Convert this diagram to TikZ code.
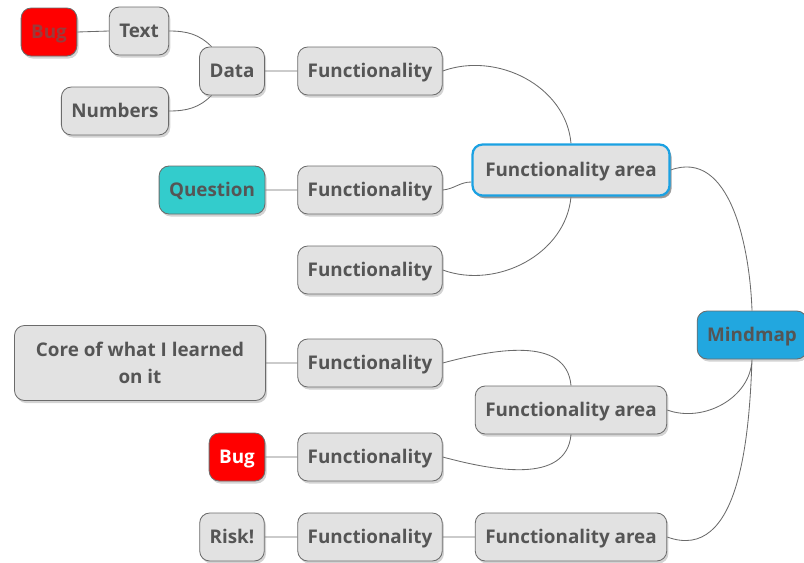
\documentclass[tikz,border=0pt]{standalone}
\usepackage{fontspec}
\setmainfont{Open Sans}
\usetikzlibrary{shadows,backgrounds}

\definecolor{boxfill}{HTML}{E2E2E2}
\definecolor{boxline}{HTML}{6B6B6B}
\definecolor{boxtext}{HTML}{555555}
\definecolor{bugred}{HTML}{FF0000}
\definecolor{bugtext}{HTML}{9A3A3A}
\definecolor{qteal}{HTML}{33CCCC}
\definecolor{mmblue}{HTML}{22A7DF}
\definecolor{areablue}{HTML}{1BA1E2}

\tikzset{
	box/.style = {draw=boxline, fill=boxfill, rounded corners=0.25cm, line width=0.6pt,
		minimum height=1.2cm, inner xsep=0.25cm, text=boxtext,
		text height=10.5pt, text depth=0.9pt,
		font=\fontsize{13.4}{19.1}\selectfont\bfseries,
		drop shadow={shadow xshift=1.2pt, shadow yshift=-1.8pt, opacity=0.35}},
	func/.style = {box, minimum width=3.575cm},
	area/.style = {box, minimum width=4.75cm},
	link/.style = {draw=boxline, line width=0.6pt},
}

\begin{document}
\begin{tikzpicture}
		\useasboundingbox (0,0) rectangle (20.1,-14.05);
		% ルート
		\node [box, fill=mmblue, minimum width=2.6cm] (mindmap) at (18.8,-8.375) {Mindmap};
		% 機能エリア
		\node [area, draw=areablue, line width=1.6pt, minimum width=4.925cm, minimum height=1.275cm,
			drop shadow={shadow xshift=1.5pt, shadow yshift=-2pt, opacity=0.7}] (area1) at (14.275,-4.25) {Functionality area};
		\node [area] (area2) at (14.275,-10.25) {Functionality area};
		\node [area] (area3) at (14.275,-13.425) {Functionality area};
		% 機能
		\node [func] (func1) at (9.25,-1.775) {Functionality};
		\node [func] (func2) at (9.25,-4.75) {Functionality};
		\node [func] (func3) at (9.25,-6.75) {Functionality};
		\node [func] (func4) at (9.25,-9.075) {Functionality};
		\node [func] (func5) at (9.25,-11.425) {Functionality};
		\node [func] (func6) at (9.25,-13.425) {Functionality};
		% 葉
		\node [box] (data) at (5.8,-1.775) {Data};
		\node [box] (text) at (3.475,-0.775) {Text};
		\node [box] (numbers) at (2.875,-2.775) {Numbers};
		\node [box, fill=bugred, text=bugtext] (bug1) at (1.225,-0.8) {Bug};
		\node [box, fill=qteal] (question) at (5.3,-4.75) {Question};
		\node [box, align=center, text height={}, text depth={}, minimum width=6.275cm, minimum height=1.875cm] (core) at (3.5,-9.075) {Core of what I learned\\on it};
		\node [box, fill=bugred, text=white] (bug2) at (5.925,-11.425) {Bug};
		\node [box] (risk) at (5.8,-13.425) {Risk!};
		% 接続線
		\begin{scope}[on background layer]
		\draw [link]
		(mindmap.north) to [out=92, in=20] (area1.east)
		(mindmap.south) to [out=-92, in=-20] (area2.east)
		(mindmap.south) to [out=-92, in=-20] (area3.east)
		(area1.north) to [out=95, in=20] (func1.east)
		(area1.south) to [out=-95, in=-20] (func3.east)
		(area2.north) to [out=95, in=15] (func4.east)
		(area2.south) to [out=-95, in=-15] (func5.east)
		(data.130) to [out=135, in=0] (text.east)
		(data.230) to [out=-135, in=0] (numbers.east)
		(func2.east) to [out=5, in=180] ([yshift=-0.3cm]area1.west)
		(area3.west) -- (func6.east)
		(func1.west) -- (data.east)
		(text.west) -- (bug1.east)
		(func2.west) -- (question.east)
		(func4.west) -- (core.east)
		(func5.west) -- (bug2.east)
		(func6.west) -- (risk.east)
		;
		\end{scope}
	\end{tikzpicture}
\end{document}
